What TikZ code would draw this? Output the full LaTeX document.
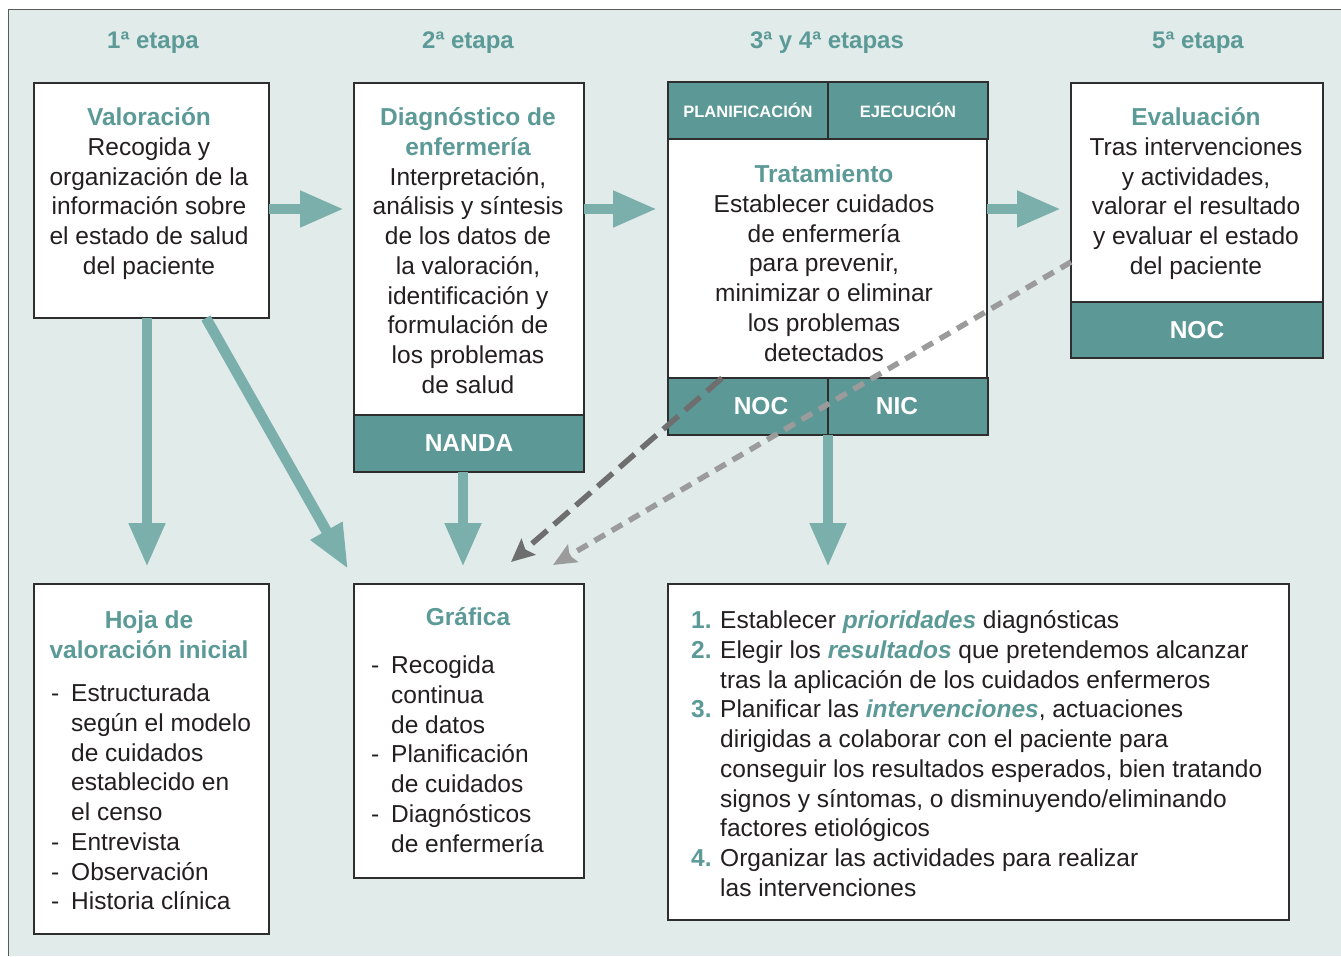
\documentclass[tikz,border=0pt]{standalone}
\usepackage{fontspec}
\setmainfont{Liberation Sans}
\usetikzlibrary{arrows.meta,calc}
\definecolor{bgc}{HTML}{E1EBE9}
\definecolor{tealbox}{HTML}{5B9896}
\definecolor{tealtxt}{HTML}{5B9A97}
\definecolor{tealarr}{HTML}{7BAFAC}
\definecolor{framec}{HTML}{2E2E2E}
\definecolor{outerc}{HTML}{5A5A5A}
\definecolor{darkdash}{HTML}{6E6E6E}
\definecolor{lightdash}{HTML}{9B9B9B}
\definecolor{txtc}{HTML}{231F20}
\newcommand{\tl}[1]{{\color{tealtxt}\bfseries #1}}
\newcommand{\bitl}[1]{{\color{tealtxt}\bfseries\itshape #1}}
\newcommand{\itm}{\makebox[20pt][l]{-}}
\newcommand{\ind}{\hspace*{20pt}}
\newcommand{\nmb}[1]{\makebox[29pt][l]{\tl{#1}}}
\newcommand{\nind}{\hspace*{29pt}}
\tikzset{
  box/.style={draw=framec, line width=1.4pt, fill=white, inner sep=0pt, outer sep=0pt, anchor=north west},
  tbox/.style={box, fill=tealbox, text=white, font=\fontsize{24.5}{29.75}\selectfont\bfseries},
  sbox/.style={tbox, font=\fontsize{16.5}{20}\selectfont\bfseries},
  body/.style={anchor=north, align=center, inner sep=0pt, text=txtc},
  lbody/.style={anchor=north west, align=left, inner sep=0pt, text=txtc},
  hdr/.style={anchor=base, inner sep=0pt, text=tealtxt, font=\fontsize{24}{29}\selectfont\bfseries},
  lbl/.style={inner sep=0pt, text=white, font=\fontsize{24.5}{29.75}\selectfont\bfseries},
  tarrow/.style={draw=tealarr, line width=10.5pt, -{Triangle[width=34pt,length=44pt]}},
  ddark/.style={draw=darkdash, line width=5.5pt, dash pattern=on 20pt off 9pt, -{Stealth[length=23pt,width=21pt,inset=4pt]}},
  dlight/.style={draw=lightdash, line width=5.5pt, dash pattern=on 12pt off 8pt, -{Stealth[length=23pt,width=20pt,inset=4pt]}}
}
\begin{document}
\begin{tikzpicture}[x=1pt,y=-1pt,font=\fontsize{24.5}{29.75}\selectfont]
\useasboundingbox (0,0) rectangle (1341,956);
\fill[bgc] (8,9) rectangle (1341,956);
\draw[outerc, line width=1.5pt] (8.5,956) -- (8.5,9.5) -- (1341,9.5);

% headers
\node[hdr] (h1) at (153,48.5) {1ª etapa};
\node[hdr] (h2) at (468,48.5) {2ª etapa};
\node[hdr] (h3) at (827,48.5) {3ª y 4ª etapas};
\node[hdr] (h4) at (1198,48.5) {5ª etapa};

% boxes top row
\node[box, minimum width=235pt, minimum height=235pt] (b1) at (34,83) {};
\node[box, minimum width=230pt, minimum height=332pt] (b2) at (354,83) {};
\node[tbox, minimum width=230pt, minimum height=57pt] (nanda) at (354,415) {NANDA};
\node[sbox, minimum width=160pt, minimum height=57pt] (plan) at (668,82) {PLANIFICACIÓN};
\node[sbox, minimum width=160pt, minimum height=57pt] (ejec) at (828,82) {EJECUCIÓN};
\node[box, minimum width=319pt, minimum height=239pt] (b3) at (668,139) {};
\node[tbox, minimum width=160pt, minimum height=57pt] (noc3) at (668,378) {};
\node[tbox, minimum width=160pt, minimum height=57pt] (nic3) at (828,378) {};
\node[lbl] (nocl) at (761,406.5) {NOC};
\node[lbl] (nicl) at (897,406.5) {NIC};
\node[box, minimum width=252pt, minimum height=219pt] (b4) at (1071,83) {};
\node[tbox, minimum width=252pt, minimum height=56pt] (noc4) at (1071,302) {NOC};

% boxes bottom row
\node[box, minimum width=235pt, minimum height=350pt] (hoja) at (34,584) {};
\node[box, minimum width=230pt, minimum height=294pt] (graf) at (354,584) {};
\node[box, minimum width=621pt, minimum height=336pt] (lst) at (668,584) {};

% texts
\node[body] (t1) at (149,104.7) {\strut\tl{Valoración}\\Recogida y\\organización de la\\información sobre\\el estado de salud\\del paciente};
\node[body] (t2) at (468,104.7) {\strut\tl{Diagnóstico de}\\\tl{enfermería}\\Interpretación,\\análisis y síntesis\\de los datos de\\la valoración,\\identificación y\\formulación de\\los problemas\\de salud};
\node[body] (t3) at (824,161.7) {\strut\tl{Tratamiento}\\Establecer cuidados\\de enfermería\\para prevenir,\\minimizar o eliminar\\los problemas\\detectados};
\node[body] (t4) at (1196,104.7) {\strut\tl{Evaluación}\\Tras intervenciones\\y actividades,\\valorar el resultado\\y evaluar el estado\\del paciente};
\node[body] (t5) at (149,607.7) {\strut\tl{Hoja de}\\\tl{valoración inicial}};
\node[lbody] (t5b) at (51,680.7) {\strut\itm Estructurada\\\ind según el modelo\\\ind de cuidados\\\ind establecido en\\\ind el censo\\\itm Entrevista\\\itm Observación\\\itm Historia clínica};
\node[body] (t6) at (468,604.7) {\strut\tl{Gráfica}};
\node[lbody] (t6b) at (371,652.7) {\strut\itm Recogida\\\ind continua\\\ind de datos\\\itm Planificación\\\ind de cuidados\\\itm Diagnósticos\\\ind de enfermería};
\node[lbody] (t7) at (691,607.7) {\strut\nmb{1.}Establecer \bitl{prioridades} diagnósticas\\\nmb{2.}Elegir los \bitl{resultados} que pretendemos alcanzar\\\nind tras la aplicación de los cuidados enfermeros\\\nmb{3.}Planificar las \bitl{intervenciones}, actuaciones\\\nind dirigidas a colaborar con el paciente para\\\nind conseguir los resultados esperados, bien tratando\\\nind signos y síntomas, o disminuyendo/eliminando\\\nind factores etiológicos\\\nmb{4.}Organizar las actividades para realizar\\\nind las intervenciones};

% teal arrows
\coordinate (hr) at (0,209);
\draw[tarrow, shorten >=10pt] (b1.east |- hr) -- (b2.west |- hr);
\draw[tarrow, shorten >=11pt] (b2.east |- hr) -- (b3.west |- hr);
\draw[tarrow, shorten >=10pt] (b3.east |- hr) -- (b4.west |- hr);
\coordinate (v1) at (147,0);
\coordinate (v2) at (206,0);
\coordinate (v3) at (463,0);
\coordinate (v4) at (828,0);
\coordinate (dtip) at (348,569);
\draw[tarrow, shorten >=17pt] (b1.south -| v1) -- (hoja.north -| v1);
\draw[tarrow] (b1.south -| v2) -- (dtip);
\draw[tarrow, shorten >=17pt] (nanda.south -| v3) -- (graf.north -| v3);
\draw[tarrow, shorten >=17pt] (noc3.south -| v4) -- (lst.north -| v4);

% dashed arrows
\coordinate (s1) at (722,0);
\coordinate (e1) at (511,562);
\coordinate (s2) at (0,262);
\coordinate (e2) at (553,565);
\draw[ddark] (b3.south -| s1) -- (e1);
\draw[dlight] (b4.west |- s2) -- (e2);
\end{tikzpicture}
\end{document}
